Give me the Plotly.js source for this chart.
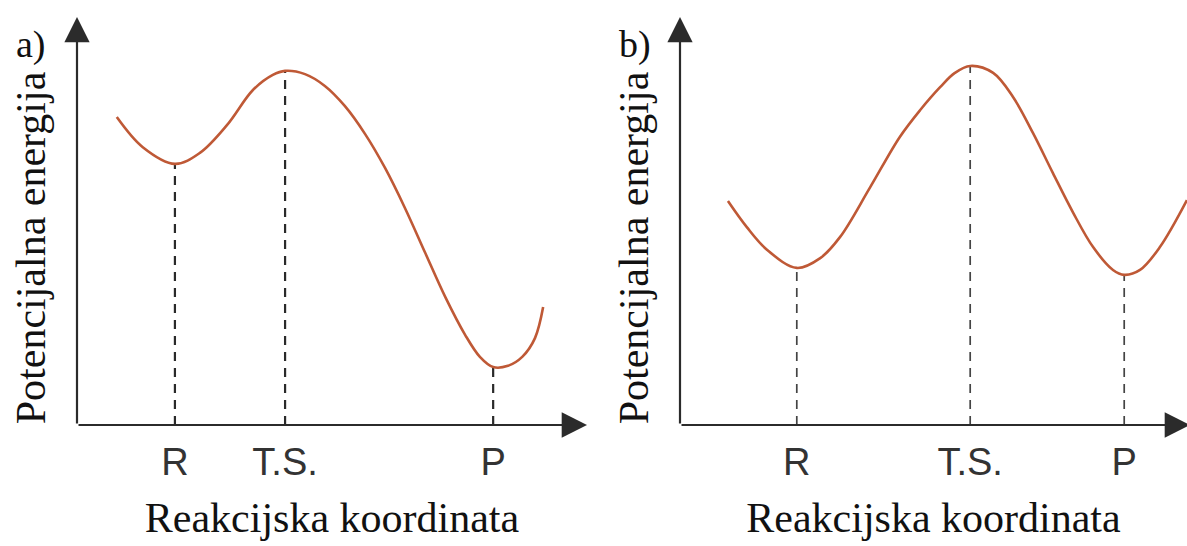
<!DOCTYPE html>
<html><head><meta charset="utf-8">
<script src="https://cdn.plot.ly/plotly-3.0.1.min.js"></script>
<style>html,body{margin:0;padding:0;background:#fff;}#chart{width:1187px;height:546px;}</style>
</head><body><div id="chart"></div>
<script>
// ---- Panel a) ----
const aCurveX = [0.78, 1.29, 1.92, 2.41, 2.94, 3.45, 3.84, 4.08, 4.47, 4.86, 5.25, 5.65, 6.04, 6.43, 6.82, 7.22, 7.61, 7.90, 8.16, 8.45, 8.73, 8.98, 9.14];
const aCurveY = [7.55, 6.81, 6.40, 6.67, 7.35, 8.21, 8.58, 8.68, 8.60, 8.31, 7.82, 7.13, 6.30, 5.32, 4.24, 3.14, 2.21, 1.67, 1.42, 1.45, 1.67, 2.13, 2.89];
const aStationX = [1.92, 4.08, 8.16];
const aStationY = [6.40, 8.68, 1.42];

// ---- Panel b) ----
const bCurveX = [0.94, 1.31, 1.71, 2.29, 2.75, 3.14, 3.73, 4.31, 4.71, 5.10, 5.39, 5.69, 6.14, 6.53, 6.92, 7.31, 7.71, 8.10, 8.49, 8.71, 9.02, 9.41, 9.94];
const bCurveY = [5.49, 4.85, 4.29, 3.85, 4.09, 4.61, 5.83, 7.06, 7.72, 8.28, 8.63, 8.80, 8.63, 8.04, 7.16, 6.18, 5.20, 4.36, 3.80, 3.68, 3.80, 4.36, 5.51];
const bStationX = [2.29, 5.69, 8.71];
const bStationY = [3.85, 8.80, 3.68];

const stationLabels = ['R', 'T.S.', 'P'];
const xTitle = 'Reakcijska koordinata';
const yTitle = 'Potencijalna energija';
const panelLabels = ['a)', 'b)'];

// ---- styling ----
const W = 1187, H = 546;
const curveColor = '#bf5936';
const axisColor = '#2b2b2b';
const serif = 'Liberation Serif, Times New Roman, serif';
const sans = 'Liberation Sans, Arial, sans-serif';

function px2fx(p) { return p / W; }
function px2fy(p) { return 1 - p / H; }

function dashTraces(xs, ys, xa, ya, color, width, dash) {
  return xs.map((x, i) => ({
    type: 'scatter', mode: 'lines', x: [x, x], y: [0, ys[i]],
    xaxis: xa, yaxis: ya, hoverinfo: 'skip', showlegend: false,
    line: { color: color, width: width, dash: dash }
  }));
}

const traces = [
  ...dashTraces(aStationX, aStationY, 'x', 'y', '#2a2a2a', 2.2, '9px,7px'),
  { type: 'scatter', mode: 'lines', x: aCurveX, y: aCurveY, xaxis: 'x', yaxis: 'y',
    line: { color: curveColor, width: 2.6, shape: 'spline', smoothing: 1 }, showlegend: false },
  ...dashTraces(bStationX, bStationY, 'x2', 'y2', '#444444', 1.7, '9px,7px'),
  { type: 'scatter', mode: 'lines', x: bCurveX, y: bCurveY, xaxis: 'x2', yaxis: 'y2',
    line: { color: curveColor, width: 2.6, shape: 'spline', smoothing: 1 }, showlegend: false }
];

function xAxis(domain, range, stations, anchor) {
  return {
    domain: domain, range: range, anchor: anchor,
    showgrid: false, zeroline: false, showline: false, ticks: '',
    tickmode: 'array', tickvals: stations, ticktext: stationLabels,
    tickfont: { family: sans, size: 38, color: '#333' },
    ticklabelstandoff: -5,
    title: { text: xTitle, font: { family: serif, size: 42, color: '#111' }, standoff: 20 },
    fixedrange: true
  };
}
function yAxis(domain, range, anchor) {
  return {
    domain: domain, range: range, anchor: anchor,
    showgrid: false, zeroline: false, showline: false, ticks: '', showticklabels: false,
    title: { text: yTitle, font: { family: serif, size: 42, color: '#111' }, standoff: 17 },
    fixedrange: true
  };
}

// y = 0 sits at pixel 425; 40.8 px per unit
const yDom = [px2fy(441), px2fy(55)];
const yRange = [-16 / 40.8, (425 - 55) / 40.8];

function arrow(xref, yref, x, y) {
  return {
    xref: xref, yref: yref, axref: xref, ayref: yref,
    x: x, y: y, ax: 0, ay: 0, text: '', showarrow: true,
    arrowhead: 2, arrowsize: 2.3, arrowwidth: 2.2, arrowcolor: axisColor, standoff: 0
  };
}

const layout = {
  width: W, height: H,
  margin: { l: 0, r: 0, t: 0, b: 0 },
  paper_bgcolor: '#ffffff', plot_bgcolor: 'rgba(0,0,0,0)',
  showlegend: false,
  xaxis: xAxis([px2fx(77), px2fx(587)], [0, 10], aStationX, 'y'),
  yaxis: yAxis(yDom, yRange, 'x'),
  xaxis2: xAxis([px2fx(680), 1], [0, 507 / 51], bStationX, 'y2'),
  yaxis2: yAxis(yDom, yRange, 'x2'),
  annotations: [
    arrow('x', 'y', 0, 10),
    arrow('x', 'y', 10, 0),
    arrow('x2', 'y2', 0, 10),
    arrow('x2', 'y2', 10, 0),
    { xref: 'paper', yref: 'paper', x: px2fx(31), y: px2fy(44), text: panelLabels[0],
      showarrow: false, xanchor: 'center', yanchor: 'middle',
      font: { family: serif, size: 38, color: '#111' } },
    { xref: 'paper', yref: 'paper', x: px2fx(635), y: px2fy(44), text: panelLabels[1],
      showarrow: false, xanchor: 'center', yanchor: 'middle',
      font: { family: serif, size: 38, color: '#111' } }
  ]
};

Plotly.newPlot('chart', traces, layout, { displayModeBar: false, staticPlot: true });
</script>
</body></html>
